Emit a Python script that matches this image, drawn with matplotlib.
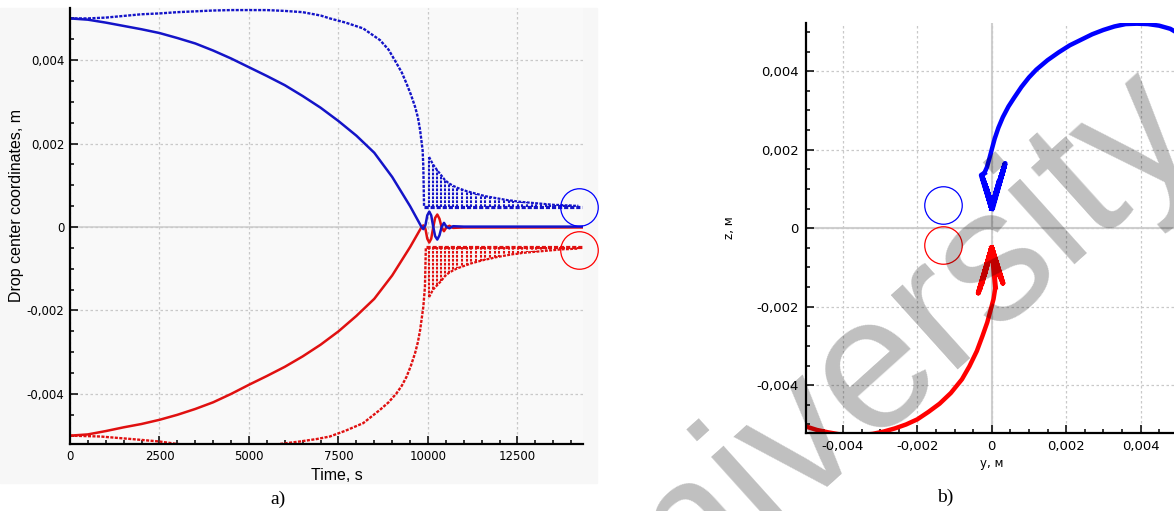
import numpy as np
import matplotlib
matplotlib.use('Agg')
import matplotlib.pyplot as plt
from matplotlib.ticker import FuncFormatter, MultipleLocator
from matplotlib.patches import Rectangle

plt.rcParams['axes.unicode_minus'] = False

# ---- a) drop centre coordinates vs time ----
# y coordinate (solid lines)
t_solid = [0, 500, 1000, 1500, 2000, 2500, 3000, 3500, 4000, 4500, 5000, 5500, 6000,
           6500, 7000, 7500, 8000, 8500, 9000, 9500, 9820,
           9870, 9930, 9980, 10036, 10090, 10148, 10200, 10260, 10320, 10380, 10446,
           10520, 10600, 10700, 11000, 14300]
blue_y = [0.00500, 0.00497, 0.00490, 0.00482, 0.00474, 0.00465, 0.00453, 0.00440,
          0.00423, 0.00404, 0.00383, 0.00362, 0.00340, 0.00314, 0.00286, 0.00254,
          0.00219, 0.00178, 0.00120, 0.00050, 0.0,
          -0.00005, 0.00005, 0.00028, 0.00037, 0.00028, 0.0, -0.00022, -0.00030,
          -0.00020, 0.0, 0.00010, 0.0, -0.00003, 0.00002, 0.00001, 0.00001]
red_y = [-0.00500, -0.00497, -0.00489, -0.00480, -0.00472, -0.00462, -0.00450,
         -0.00436, -0.00420, -0.00400, -0.00378, -0.00357, -0.00335, -0.00310,
         -0.00282, -0.00250, -0.00213, -0.00172, -0.00116, -0.00048, 0.0,
         0.00004, -0.00005, -0.00028, -0.00037, -0.00028, 0.0, 0.00022, 0.00030,
         0.00020, 0.0, -0.00010, 0.0, 0.00003, -0.00002, -0.00001, -0.00001]

# z coordinate (dotted lines), before the oscillations
t_blue_z = [0, 500, 1000, 1500, 2000, 2500, 3000, 3500, 4000, 4500, 5000, 5500, 6000,
            6500, 7000, 7260, 7700, 8190, 8660, 8900, 9125, 9270, 9400, 9520, 9640,
            9720, 9780, 9850, 9870, 9890]
blue_z = [0.00500, 0.00500, 0.00502, 0.00506, 0.00510, 0.00512, 0.00515, 0.00517,
          0.00519, 0.00520, 0.00520, 0.00520, 0.00518, 0.00515, 0.00507, 0.00500,
          0.00490, 0.00476, 0.00448, 0.00425, 0.00392, 0.00370, 0.00344, 0.00318,
          0.00288, 0.00262, 0.00232, 0.00184, 0.00144, 0.00049]
t_red_z = [0, 840, 1700, 2500, 3000, 4000, 5000, 5860, 6420, 6900, 7260, 7700, 8190,
           8660, 8900, 9125, 9270, 9400, 9520, 9640, 9720, 9780, 9870, 9915, 9940]
red_z = [-0.00500, -0.00502, -0.00508, -0.00514, -0.00520, -0.00526, -0.00528,
         -0.00520, -0.00514, -0.00508, -0.00502, -0.00488, -0.00470, -0.00438,
         -0.00420, -0.00398, -0.00380, -0.00359, -0.00333, -0.00302, -0.00275,
         -0.00247, -0.00191, -0.00143, -0.00049]

# z oscillations after ~10000 s: spike times, spike tips and the level they start from
osc_t = [10030, 10140, 10250, 10360, 10470, 10580, 10700, 10820, 10950, 11080,
         11210, 11340, 11470, 11600, 11730, 11860, 11990, 12120, 12250, 12380,
         12510, 12640, 12770, 12900, 13030, 13160, 13290, 13420, 13550, 13680,
         13810, 13940, 14070, 14200]
blue_osc = [0.00168, 0.00150, 0.00137, 0.00125, 0.00113, 0.00105, 0.00099, 0.00094,
            0.00090, 0.00086, 0.00083, 0.00080, 0.00077, 0.00074, 0.00072, 0.00070,
            0.00068, 0.00066, 0.00064, 0.00063, 0.00061, 0.00060, 0.00059, 0.00058,
            0.00057, 0.00056, 0.00055, 0.00054, 0.00053, 0.00053, 0.00052, 0.00052,
            0.00051, 0.00051]
red_osc = [-0.00168, -0.00150, -0.00140, -0.00130, -0.00118, -0.00110, -0.00104,
           -0.00099, -0.00095, -0.00091, -0.00087, -0.00084, -0.00081, -0.00078,
           -0.00076, -0.00073, -0.00071, -0.00069, -0.00067, -0.00065, -0.00064,
           -0.00062, -0.00061, -0.00060, -0.00059, -0.00058, -0.00057, -0.00056,
           -0.00055, -0.00054, -0.00053, -0.00053, -0.00052, -0.00052]
blue_base = 0.00049
red_base = -0.00047
t_end = 14300

# ---- b) trajectories in the y-z plane ----
blue_arc_y = [0.0050, 0.0048, 0.0045, 0.0042, 0.0039, 0.0036, 0.0033, 0.0030, 0.0027,
              0.0024, 0.0021, 0.0018, 0.0015, 0.0012, 0.0010, 0.0008, 0.0006, 0.00045,
              0.0003, 0.00018, 0.00008, 0.0, -0.00007, -0.00013, -0.0002]
blue_arc_z = [0.00497, 0.00508, 0.00516, 0.0052, 0.00521, 0.0052, 0.00514, 0.00505,
              0.00494, 0.0048, 0.00466, 0.00448, 0.00428, 0.00404, 0.00384, 0.0036,
              0.00332, 0.0031, 0.00283, 0.00256, 0.00228, 0.0020, 0.00175, 0.00155,
              0.0014]
blue_v_y = [-0.0002, -0.00028, 0.0, 0.00036, 0.00002, -0.00025, 0.0, 0.00033, 0.0,
            -0.00022, 0.0, 0.00030, 0.0, -0.00018, 0.0, 0.00025, 0.0, -0.00014, 0.0,
            0.00020, 0.0, -0.00010, 0.0, 0.00014, 0.0, -0.00006, 0.0, 0.00008, 0.0]
blue_v_z = [0.0014, 0.00135, 0.0005, 0.00165, 0.0005, 0.0013, 0.0005, 0.00155, 0.0005,
            0.00122, 0.0005, 0.00145, 0.0005, 0.00112, 0.0005, 0.00132, 0.0005,
            0.00102, 0.0005, 0.0012, 0.0005, 0.0009, 0.0005, 0.001, 0.0005, 0.0008,
            0.0005, 0.0008, 0.0005]
red_arc_y = [-0.0050, -0.0047, -0.0044, -0.0041, -0.0038, -0.0035, -0.0032, -0.0029,
             -0.0026, -0.0023, -0.0020, -0.0017, -0.0014, -0.0011, -0.0008, -0.0006,
             -0.0004, -0.00025, -0.00012, -0.00002, 0.00005, 0.0001]
red_arc_z = [-0.00505, -0.00514, -0.0052, -0.00525, -0.00527, -0.00527, -0.00524,
             -0.00518, -0.0051, -0.005, -0.00487, -0.00468, -0.00447, -0.0042,
             -0.00385, -0.00352, -0.00313, -0.00275, -0.0024, -0.00205, -0.0018,
             -0.0015]
red_a_y = [0.0001, 0.0, -0.00036, 0.0, 0.00030, 0.0, -0.00032, 0.0, 0.00026, 0.0,
           -0.00027, 0.0, 0.00020, 0.0, -0.00020, 0.0, 0.00014, 0.0, -0.00012, 0.0,
           0.00008, 0.0]
red_a_z = [-0.0015, -0.0005, -0.00165, -0.0005, -0.0014, -0.0005, -0.00155, -0.0005,
           -0.0013, -0.0005, -0.00142, -0.0005, -0.0012, -0.0005, -0.0012, -0.0005,
           -0.001, -0.0005, -0.0009, -0.0005, -0.0008, -0.0005]

# marked final positions (circles)
circ_a_t = [14210, 14210]
circ_a_z = [0.00047, -0.00055]
circ_b_y = [-0.00131, -0.00131]
circ_b_z = [0.00059, -0.00043]

BLUE = '#1414c8'
RED = '#e01010'
DOT = (0, (1.3, 0.6))
GRID = '#c9c9c9'


def comma_fmt(v, pos):
    if abs(v) < 1e-12:
        return '0'
    return ('%.3f' % v).replace('.', ',')


fig = plt.figure(figsize=(11.74, 5.11), dpi=100)
fig.patches.append(Rectangle((0, 28 / 511), 597 / 1174, 475 / 511,
                             transform=fig.transFigure, color='#f7f7f7', zorder=-10))

# ------------------ panel a ------------------
ax = fig.add_axes([70 / 1174, 1 - 444 / 511, 513 / 1174, 436 / 511])
ax.set_facecolor('#f9f9f9')
ax.set_xlim(0, 14330)
ax.set_ylim(-0.0052, 0.00525)

ax.plot(t_red_z, red_z, color=RED, lw=1.7, ls=DOT)
ax.plot(t_blue_z, blue_z, color=BLUE, lw=1.7, ls=DOT)
ax.vlines(osc_t, red_base, red_osc, color=RED, lw=1.5, linestyles=DOT)
ax.vlines(osc_t, blue_base, blue_osc, color=BLUE, lw=1.5, linestyles=DOT)
ax.plot(osc_t, red_osc, color=RED, lw=1.6, ls=DOT)
ax.plot(osc_t, blue_osc, color=BLUE, lw=1.6, ls=DOT)
ax.plot([t_red_z[-1], t_end], [red_base, red_base], color=RED, lw=2.3, ls=DOT)
ax.plot([t_blue_z[-1], t_end], [blue_base, blue_base], color=BLUE, lw=2.3, ls=DOT)
ax.plot(t_solid, red_y, color=RED, lw=1.8)
ax.plot(t_solid, blue_y, color=BLUE, lw=1.8)

ax.plot(circ_a_t[:1], circ_a_z[:1], 'o', ms=27, mfc='none', mec='#0000ff', mew=0.9,
        clip_on=False)
ax.plot(circ_a_t[1:], circ_a_z[1:], 'o', ms=27, mfc='none', mec='#ff0000', mew=0.9,
        clip_on=False)

ax.set_xticks([0, 2500, 5000, 7500, 10000, 12500])
ax.set_yticks([-0.004, -0.002, 0, 0.002, 0.004])
ax.xaxis.set_minor_locator(MultipleLocator(500))
ax.yaxis.set_minor_locator(MultipleLocator(0.0005))
ax.yaxis.set_major_formatter(FuncFormatter(comma_fmt))
ax.grid(True, which='major', color=GRID, lw=0.9, ls=(0, (2, 2)))
ax.axhline(0, color='#cfcfcf', lw=1.2, zorder=0.5)
for s in ['top', 'right']:
    ax.spines[s].set_visible(False)
for s in ['left', 'bottom']:
    ax.spines[s].set_linewidth(1.6)
ax.tick_params(which='both', direction='in', width=1.1, labelsize=8.5, pad=4)
ax.tick_params(which='major', length=6)
ax.tick_params(which='minor', length=3)

fig.text(337 / 1174, 1 - 475 / 511, 'Time, s', ha='center', va='center',
         fontsize=11.5, family='Liberation Sans')
fig.text(17 / 1174, 1 - 205 / 511, 'Drop center coordinates, m', ha='center',
         va='center', rotation=90, fontsize=11.5, family='Liberation Sans')
fig.text(278 / 1174, 1 - 499 / 511, 'a)', ha='center', va='center', fontsize=14,
         family='Liberation Serif')

# ------------------ panel b ------------------
bx = fig.add_axes([805.7 / 1174, 1 - 432.7 / 511, (1174 - 805.7) / 1174, 409.4 / 511])
bx.set_xlim(-0.0050, 0.0049)
bx.set_ylim(-0.00521, 0.00522)

bx.plot(red_arc_y, red_arc_z, color='#ff0000', lw=3.2, solid_capstyle='round',
        solid_joinstyle='round')
bx.plot(red_a_y, red_a_z, color='#ff0000', lw=3.6, solid_joinstyle='round')
bx.plot(blue_arc_y, blue_arc_z, color='#0000ff', lw=3.2, solid_capstyle='round',
        solid_joinstyle='round')
bx.plot(blue_v_y, blue_v_z, color='#0000ff', lw=3.6, solid_joinstyle='round')

bx.plot(circ_b_y[:1], circ_b_z[:1], 'o', ms=27, mfc='none', mec='#0000ff', mew=0.9)
bx.plot(circ_b_y[1:], circ_b_z[1:], 'o', ms=27, mfc='none', mec='#ff0000', mew=0.9)

bx.set_xticks([-0.004, -0.002, 0, 0.002, 0.004])
bx.set_yticks([-0.004, -0.002, 0, 0.002, 0.004])
bx.xaxis.set_minor_locator(MultipleLocator(0.0005))
bx.yaxis.set_minor_locator(MultipleLocator(0.0005))
bx.xaxis.set_major_formatter(FuncFormatter(comma_fmt))
bx.yaxis.set_major_formatter(FuncFormatter(comma_fmt))
bx.grid(True, which='major', color=GRID, lw=0.9, ls=(0, (2, 2)))
bx.axhline(0, color='#cfcfcf', lw=1.5, zorder=0.5)
bx.axvline(0, color='#cfcfcf', lw=1.5, zorder=0.5)
for s in ['top', 'right']:
    bx.spines[s].set_visible(False)
for s in ['left', 'bottom']:
    bx.spines[s].set_linewidth(1.6)
bx.tick_params(which='both', direction='in', width=1.1, labelsize=9.5, pad=5)
bx.tick_params(which='major', length=6)
bx.tick_params(which='minor', length=3)

fig.text(991.7 / 1174, 1 - 463 / 511, 'y, м', ha='center', va='center', fontsize=8.5)
fig.text(730 / 1174, 1 - 228 / 511, 'z, м', ha='center', va='center', rotation=90,
         fontsize=8.5)
fig.text(945 / 1174, 1 - 497 / 511, 'b)', ha='center', va='center', fontsize=14,
         family='Liberation Serif')

# watermark
fig.text(862 / 1174, 1 - 377 / 511, 'University', ha='center', va='center',
         rotation=42, rotation_mode='anchor', fontsize=136, family='Liberation Sans',
         color=(0, 0, 0, 0.25), zorder=10)

fig.savefig('out.png', dpi=100)
